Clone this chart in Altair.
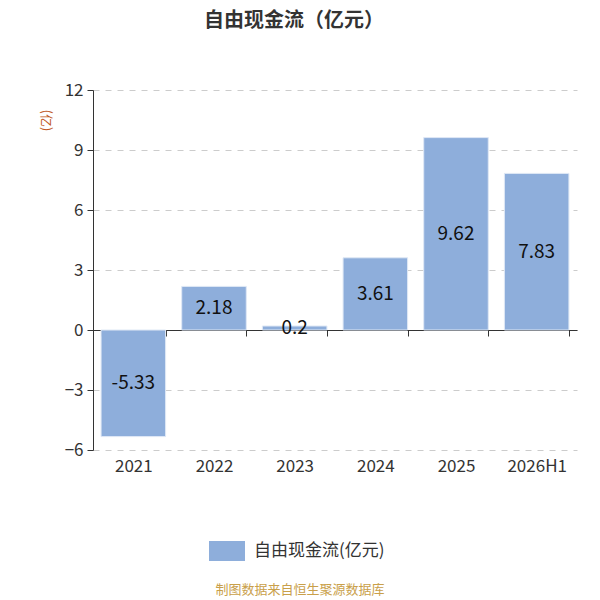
import altair as alt
import pandas as pd

years = ["2021", "2022", "2023", "2024", "2025", "2026H1"]
values = [-5.33, 2.18, 0.2, 3.61, 9.62, 7.83]
labels = ["-5.33", "2.18", "0.2", "3.61", "9.62", "7.83"]
series_name = "自由现金流(亿元)"
y_ticks = [-6, -3, 0, 3, 6, 9, 12]

df = pd.DataFrame({"year": years, "value": values, "label": labels,
                   "mid": [v / 2 for v in values], "series": [series_name] * len(years)})

FONT = "Noto Sans CJK SC"
W, H = 484, 360

x_enc = alt.X("year:N", sort=years, title=None,
              scale=alt.Scale(paddingInner=0.2, paddingOuter=0.1),
              axis=alt.Axis(offset=-120, tickBand="extent", domainColor="#333",
                            tickColor="#333", tickSize=6, labelPadding=122,
                            labelAngle=0, labelFontSize=17, labelColor="#333",
                            labelFont=FONT, grid=False))

bars = alt.Chart(df).mark_bar(color="#8eaedb", stroke="#dfe8f5", strokeWidth=1).encode(
    x=x_enc,
    y=alt.Y("value:Q", title="(亿)",
            scale=alt.Scale(domain=[-6, 12], nice=False, zero=False),
            axis=alt.Axis(values=y_ticks, domainColor="#333", tickColor="#333",
                          tickSize=6, labelFontSize=17, labelColor="#333",
                          labelFont=FONT, labelPadding=4, gridColor="#cccccc",
                          gridDash=[6, 6], titleAngle=90, titleColor="#c0581e",
                          titleFontSize=13, titleFont=FONT, titleFontWeight="normal",
                          titleX=-48, titleY=30, titleAlign="center",
                          titleBaseline="middle")),
    color=alt.Color("series:N", scale=alt.Scale(range=["#8eaedb"]),
                    legend=alt.Legend(title=None, orient="none", legendX=124,
                                      legendY=451, padding=0,
                                      symbolType="M-1.8,-1H1.8V1H-1.8Z",
                                      symbolSize=400, symbolStrokeWidth=0,
                                      symbolOpacity=1, labelOffset=17,
                                      labelFontSize=17, labelColor="#333",
                                      labelFont=FONT)),
)

texts = alt.Chart(df).mark_text(fontSize=19, color="#111", font=FONT,
                                baseline="middle").encode(
    x=alt.X("year:N", sort=years),
    y=alt.Y("mid:Q"),
    text="label:N",
)

footer = alt.Chart(pd.DataFrame({"t": ["制图数据来自恒生聚源数据库"]})).mark_text(
    fontSize=13, color="#c9a04a", font=FONT, baseline="middle", align="center"
).encode(x=alt.value(207), y=alt.value(500), text="t:N")

chart = alt.layer(bars, texts, footer).properties(
    width=W, height=H,
    title=alt.TitleParams("自由现金流（亿元）", font=FONT, fontSize=20,
                          fontWeight="bold", color="#333", anchor="middle",
                          frame="group", dx=-41, offset=50),
    autosize=alt.AutoSizeParams(type="none"),
    padding={"left": 85, "top": 82, "right": 15, "bottom": 150},
).configure_view(stroke=None)

chart.save("out.html", embed_options={"renderer": "svg", "actions": False})
